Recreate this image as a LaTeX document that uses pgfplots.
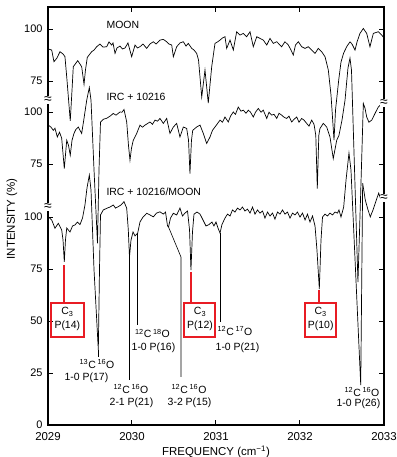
\documentclass[border=0pt]{standalone}
\usepackage{fontspec}
\setmainfont{Liberation Sans}
\usepackage{pgfplots}
\usepackage{pgfplotstable}
\pgfplotsset{compat=1.18}
\definecolor{boxred}{RGB}{232,28,36}

% MOON spectrum (intensity %)
\pgfplotstableread{
f I
2029.004 90.4
2029.044 89.9
2029.071 84.3
2029.104 85.9
2029.143 89.1
2029.179 88.0
2029.202 86.7
2029.226 75.5
2029.265 55.8
2029.286 70.7
2029.301 81.9
2029.354 84.8
2029.401 81.9
2029.429 73.4
2029.446 80.3
2029.468 86.4
2029.520 89.1
2029.548 89.9
2029.580 91.5
2029.619 92.8
2029.655 91.3
2029.699 91.5
2029.726 93.8
2029.758 92.3
2029.774 93.3
2029.798 88.3
2029.821 90.9
2029.857 91.8
2029.887 90.4
2029.917 90.9
2029.952 93.3
2029.996 86.7
2030.036 92.3
2030.065 90.9
2030.095 91.5
2030.131 92.8
2030.175 90.7
2030.214 92.8
2030.254 93.9
2030.286 92.8
2030.333 94.7
2030.373 95.0
2030.413 93.9
2030.440 92.8
2030.473 92.3
2030.492 86.7
2030.532 91.5
2030.571 93.3
2030.611 93.9
2030.643 91.8
2030.670 93.1
2030.711 90.7
2030.738 89.9
2030.770 88.3
2030.792 85.1
2030.830 67.3
2030.869 80.3
2030.908 64.4
2030.949 81.9
2030.988 93.1
2031.018 93.8
2031.048 94.7
2031.077 95.7
2031.107 96.3
2031.127 90.7
2031.167 94.7
2031.206 89.9
2031.246 98.7
2031.286 97.1
2031.325 97.9
2031.365 96.3
2031.405 98.7
2031.444 91.5
2031.485 96.3
2031.524 95.5
2031.563 94.7
2031.604 92.3
2031.643 95.5
2031.682 93.1
2031.723 93.9
2031.750 92.8
2031.782 91.5
2031.821 93.9
2031.861 92.3
2031.893 89.9
2031.920 87.5
2031.946 92.3
2031.980 93.9
2032.020 91.5
2032.060 90.7
2032.099 91.5
2032.139 89.9
2032.179 88.3
2032.218 90.7
2032.258 89.1
2032.298 86.7
2032.337 80.3
2032.369 68.3
2032.405 46.6
2032.423 61.1
2032.461 75.5
2032.488 84.1
2032.520 88.5
2032.560 91.8
2032.595 93.8
2032.619 92.8
2032.655 89.9
2032.679 93.8
2032.714 97.9
2032.754 100.3
2032.794 97.9
2032.833 91.5
2032.873 97.9
2032.932 98.7
2032.973 97.1
2033.000 95.7
}\moon

% IRC+10216 spectrum (intensity %)
\pgfplotstableread{
f I
2029.004 93.8
2029.036 92.8
2029.063 91.3
2029.083 92.3
2029.111 88.1
2029.137 90.4
2029.163 87.5
2029.194 72.9
2029.223 86.5
2029.244 84.1
2029.265 79.3
2029.286 86.5
2029.310 89.9
2029.333 91.8
2029.361 92.9
2029.381 91.3
2029.401 89.8
2029.429 97.1
2029.461 105.8
2029.492 111.9
2029.512 105.8
2029.548 72.1
2029.589 37.0
2029.607 72.1
2029.625 95.2
2029.658 96.6
2029.699 97.1
2029.738 98.1
2029.777 99.4
2029.810 98.6
2029.857 100.1
2029.881 100.0
2029.905 101.3
2029.937 95.3
2029.958 84.1
2029.976 76.9
2029.994 82.7
2030.015 86.5
2030.056 89.8
2030.095 93.8
2030.125 92.8
2030.155 93.8
2030.214 95.3
2030.244 94.2
2030.274 96.2
2030.304 95.7
2030.333 97.0
2030.373 94.6
2030.413 97.0
2030.452 89.8
2030.492 92.9
2030.532 94.6
2030.571 88.1
2030.611 92.9
2030.651 92.2
2030.673 86.5
2030.690 70.5
2030.708 86.5
2030.723 91.3
2030.770 92.9
2030.810 93.8
2030.849 89.8
2030.889 85.0
2030.929 88.1
2030.958 91.3
2030.988 92.9
2031.048 96.2
2031.077 95.2
2031.107 97.7
2031.146 95.3
2031.173 98.1
2031.206 100.1
2031.232 99.0
2031.265 102.5
2031.298 100.5
2031.325 101.0
2031.357 99.5
2031.385 101.0
2031.411 100.0
2031.444 97.7
2031.470 100.0
2031.504 101.8
2031.536 100.0
2031.563 101.0
2031.604 97.0
2031.631 100.0
2031.663 98.6
2031.690 99.0
2031.723 97.0
2031.750 99.5
2031.782 98.6
2031.810 97.6
2031.842 97.0
2031.869 98.1
2031.901 95.3
2031.929 96.6
2031.961 97.7
2031.988 95.2
2032.020 97.0
2032.048 96.2
2032.080 94.6
2032.107 93.3
2032.139 96.2
2032.167 94.2
2032.188 88.9
2032.206 63.3
2032.224 88.9
2032.238 92.2
2032.277 94.6
2032.318 92.9
2032.357 88.1
2032.396 77.7
2032.437 86.5
2032.464 88.9
2032.500 96.2
2032.536 105.8
2032.571 121.2
2032.595 126.0
2032.613 120.2
2032.690 18.3
2032.720 57.7
2032.754 104.2
2032.774 101.9
2032.794 97.7
2032.821 95.2
2032.854 96.2
2032.893 99.4
2032.932 102.5
2032.973 104.2
2033.000 105.8
}\irc

% IRC+10216 / MOON ratio (intensity %)
\pgfplotstableread{
f I
2029.004 100.1
2029.044 98.6
2029.083 94.6
2029.123 97.0
2029.163 93.8
2029.179 88.9
2029.194 78.4
2029.208 88.9
2029.223 94.7
2029.262 92.8
2029.292 95.7
2029.321 96.2
2029.351 97.6
2029.381 96.4
2029.411 99.5
2029.440 105.8
2029.464 113.9
2029.492 120.2
2029.512 113.0
2029.548 74.5
2029.599 36.1
2029.613 74.5
2029.625 101.0
2029.658 103.4
2029.699 104.2
2029.738 104.8
2029.777 105.8
2029.804 104.3
2029.837 105.0
2029.869 105.8
2029.905 107.4
2029.937 104.2
2029.956 93.8
2029.970 80.8
2029.988 88.9
2030.012 92.8
2030.036 90.9
2030.068 92.3
2030.095 97.6
2030.131 100.0
2030.175 101.8
2030.214 101.0
2030.254 100.1
2030.292 101.9
2030.333 102.5
2030.373 101.4
2030.399 102.4
2030.423 95.7
2030.435 95.2
2030.458 99.5
2030.492 101.8
2030.532 101.0
2030.554 102.9
2030.571 104.3
2030.601 100.5
2030.631 101.9
2030.661 102.9
2030.685 93.8
2030.702 74.5
2030.720 92.8
2030.738 101.4
2030.774 102.4
2030.810 101.4
2030.845 98.6
2030.881 95.7
2030.917 96.4
2030.952 97.6
2030.976 95.7
2031.000 97.6
2031.024 94.7
2031.048 92.3
2031.071 96.4
2031.107 99.5
2031.137 101.4
2031.167 100.5
2031.196 103.4
2031.226 102.4
2031.256 104.3
2031.286 103.4
2031.315 104.8
2031.345 102.9
2031.375 103.8
2031.405 101.9
2031.435 104.8
2031.464 101.4
2031.494 103.4
2031.524 101.9
2031.554 102.9
2031.583 99.5
2031.613 102.4
2031.643 100.5
2031.673 101.9
2031.702 99.0
2031.732 102.4
2031.762 101.4
2031.792 103.4
2031.821 101.4
2031.851 102.4
2031.881 99.5
2031.911 101.9
2031.940 101.0
2031.970 102.4
2032.000 100.0
2032.030 101.9
2032.060 98.6
2032.089 101.4
2032.119 97.6
2032.149 100.5
2032.179 95.7
2032.202 84.1
2032.230 65.4
2032.250 88.9
2032.268 100.0
2032.298 101.4
2032.327 100.5
2032.357 101.9
2032.387 101.0
2032.417 102.4
2032.446 101.9
2032.464 103.4
2032.488 100.0
2032.520 104.8
2032.548 117.8
2032.583 130.8
2032.607 122.6
2032.723 19.2
2032.746 116.3
2032.777 108.2
2032.810 103.4
2032.837 100.1
2032.869 103.4
2032.896 106.7
2032.937 111.5
2032.964 108.2
2033.000 110.1
}\ratio

\begin{document}
\begin{tikzpicture}
\begin{axis}[
  scale only axis, width=336bp, height=418bp,
  xmin=2029, xmax=2033, ymin=0, ymax=201,
  scaled x ticks=false,
  xtick={2029,2030,2031,2032,2033},
  xticklabels={2029,2030,2031,2032,2033},
  ytick={0,25,50,75,100,125.4,150.4,165.4,190.4},
  yticklabels={0,25,50,75,100,75,100,75,100},
  tick align=inside,
  major tick length=5bp,
  axis line style={line width=1.3bp},
  tick style={line width=1bp, black},
  xticklabel style={font=\fontsize{11.5}{12}\selectfont, yshift=-3.5bp},
  yticklabel style={font=\fontsize{11}{12}\selectfont, xshift=-2bp},
  /pgf/number format/assume math mode=true,
  xlabel={FREQUENCY (cm\textsuperscript{−1})},
  ylabel={INTENSITY (\%)},
  every axis x label/.style={at={(axis description cs:0.5,-0.0646)}, anchor=center, font=\fontsize{11.5}{12}\selectfont},
  every axis y label/.style={at={(axis description cs:-0.1071,0.493)}, rotate=90, anchor=center, font=\fontsize{11.5}{12}\selectfont},
  clip=false,
]
\addplot[black, line width=0.7bp] table[x=f, y expr=\thisrow{I}+90.4] {\moon};
\addplot[black, line width=0.7bp] table[x=f, y expr=\thisrow{I}+50.4] {\irc};
\addplot[black, line width=0.7bp] table[x=f, y=I] {\ratio};

% trace titles
\node[anchor=west, font=\fontsize{10.5}{12}\selectfont] at (axis cs:2029.655,192.3) {MOON};
\node[anchor=west, font=\fontsize{10.5}{12}\selectfont] at (axis cs:2029.655,157.7) {IRC + 10216};
\node[anchor=west, font=\fontsize{10.5}{12}\selectfont] at (axis cs:2029.655,112.0) {IRC + 10216/MOON};

% break marks
\node[fill=white, inner sep=0.3bp, font=\fontsize{14}{14}\selectfont] at (axis cs:2029,156.3) {≈};
\node[fill=white, inner sep=0.3bp, font=\fontsize{14}{14}\selectfont] at (axis cs:2029,104.8) {≈};
\node[fill=white, inner sep=0.3bp, font=\fontsize{14}{14}\selectfont] at (axis cs:2033,154.8) {≈};
\node[fill=white, inner sep=0.3bp, font=\fontsize{14}{14}\selectfont] at (axis cs:2033,109.1) {≈};

% leader lines
\draw[line width=0.6bp] (axis cs:2029.599,36.1) -- (axis cs:2029.599,32.7);
\draw[line width=0.6bp] (axis cs:2029.970,80.8) -- (axis cs:2029.970,21.6);
\draw[line width=0.6bp] (axis cs:2030.068,92.3) -- (axis cs:2030.068,48.1);
\draw[line width=0.6bp] (axis cs:2030.435,95.2) -- (axis cs:2030.583,80.8) -- (axis cs:2030.583,23.1);
\draw[line width=0.6bp] (axis cs:2031.048,92.3) -- (axis cs:2031.048,49.5);

% line labels
\begin{scope}[every node/.style={font=\fontsize{10.5}{12}\selectfont, inner sep=0pt}]
\node at (axis cs:2029.583,29.3) {\textsuperscript{13}C\,\textsuperscript{16}O};
\node at (axis cs:2029.458,22.6) {1-0 P(17)};
\node at (axis cs:2029.988,17.3) {\textsuperscript{12}C\,\textsuperscript{16}O};
\node at (axis cs:2029.994,10.6) {2-1 P(21)};
\node at (axis cs:2030.244,44.0) {\textsuperscript{12}C\,\textsuperscript{18}O};
\node at (axis cs:2030.256,37.3) {1-0 P(16)};
\node at (axis cs:2030.679,17.3) {\textsuperscript{12}C\,\textsuperscript{16}O};
\node at (axis cs:2030.685,10.6) {3-2 P(15)};
\node at (axis cs:2031.226,45.0) {\textsuperscript{12}C\,\textsuperscript{17}O};
\node at (axis cs:2031.256,37.3) {1-0 P(21)};
\node at (axis cs:2032.738,15.9) {\textsuperscript{12}C\,\textsuperscript{16}O};
\node at (axis cs:2032.696,10.1) {1-0 P(26)};
\end{scope}

% C3 markers
\draw[boxred, line width=2bp] (axis cs:2029.194,76.9) -- (axis cs:2029.194,58.9);
\draw[boxred, line width=2bp] (axis cs:2029.032,58.9) rectangle (axis cs:2029.429,42.5);
\draw[boxred, line width=2bp] (axis cs:2030.702,73.6) -- (axis cs:2030.702,58.9);
\draw[boxred, line width=2bp] (axis cs:2030.625,58.9) rectangle (axis cs:2030.994,42.5);
\draw[boxred, line width=2bp] (axis cs:2032.230,64.9) -- (axis cs:2032.230,58.9);
\draw[boxred, line width=2bp] (axis cs:2032.065,58.9) rectangle (axis cs:2032.429,42.5);
\begin{scope}[every node/.style={font=\fontsize{10.5}{12}\selectfont, inner sep=0pt}]
\node at (axis cs:2029.230,54.3) {C\textsubscript{3}};
\node at (axis cs:2029.230,47.6) {P(14)};
\node at (axis cs:2030.810,54.3) {C\textsubscript{3}};
\node at (axis cs:2030.810,47.6) {P(12)};
\node at (axis cs:2032.247,54.3) {C\textsubscript{3}};
\node at (axis cs:2032.247,47.6) {P(10)};
\end{scope}
\end{axis}
\pgfresetboundingbox
\useasboundingbox (-48bp,-32bp) rectangle (349bp,425bp);
\end{tikzpicture}
\end{document}
